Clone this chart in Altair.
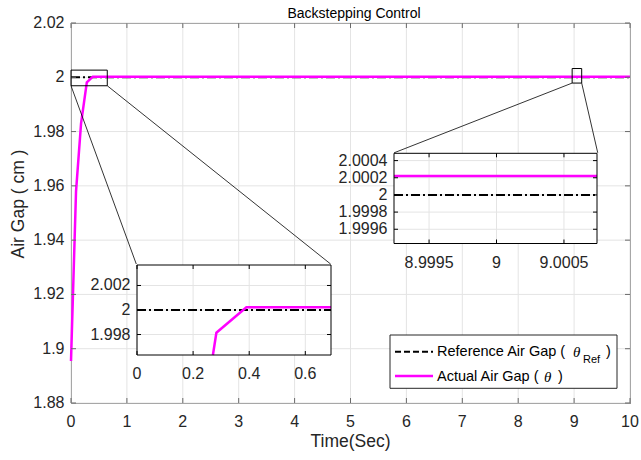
import altair as alt
import pandas as pd

# ---------------- data ----------------
time_s = [0.0, 0.09, 0.18, 0.283, 0.39, 10.0]
air_gap_actual = [1.8955, 1.958, 1.983, 1.99815, 2.00022, 2.00022]
ref_time = [0.0, 10.0]
air_gap_ref = [2.0, 2.0]

main_x_ticks = [0, 1, 2, 3, 4, 5, 6, 7, 8, 9, 10]
main_y_ticks = [1.88, 1.9, 1.92, 1.94, 1.96, 1.98, 2.0, 2.02]
main_x_domain = [0, 10]
main_y_domain = [1.88, 2.02]

# zoom boxes drawn on main axes (data coords)
zoom_box_x0 = [0.0, 8.965]
zoom_box_x1 = [0.649, 9.136]
zoom_box_y0 = [1.99688, 1.99787]
zoom_box_y1 = [2.00264, 2.00323]

# connector lines (main data coords): box corner -> inset corner
conn_x0 = [0.0, 0.649, 8.965, 9.136]
conn_y0 = [1.99688, 1.99688, 1.99787, 1.99787]
conn_x1 = [1.168, 4.645, 5.780, 9.423]
conn_y1 = [1.93119, 1.93119, 1.97218, 1.97218]

# inset 1
in1_x_domain = [0.0, 0.6916]
in1_y_domain = [1.99633, 2.00367]
in1_x_ticks = [0, 0.2, 0.4, 0.6]
in1_y_ticks = [1.998, 2.0, 2.002]
# inset 2
in2_x_domain = [8.99924, 9.000745]
in2_y_domain = [1.999434, 2.000485]
in2_x_ticks = [8.9995, 9.0, 9.0005]
in2_y_ticks = [1.9996, 1.9998, 2.0, 2.0002, 2.0004]

title_text = "Backstepping Control"
x_title = "Time(Sec)"
y_title = "Air Gap ( cm )"

# ---------------- layout (pixels, relative to plot area) ----------------
W, H = 559, 380
in1_x_range = [66, 260]
in1_y_range = [332, 242]
in2_x_range = [323, 526]
in2_y_range = [220.5, 130.3]

FONT = "Liberation Sans"
TXT = "#262626"
GRID = "#e4e4e4"
AX = "#6a6a6a"
MAG = "#ff00ff"
DASH = [9, 3, 2, 3]
LAB = 16


def fmt(v):
    return "%.6g" % v


def clip_poly(xs, ys, xd, yd):
    out = []
    for i in range(len(xs) - 1):
        x0, y0, x1, y1 = xs[i], ys[i], xs[i + 1], ys[i + 1]
        dx, dy = x1 - x0, y1 - y0
        t0, t1 = 0.0, 1.0
        ok = True
        for p, q in ((-dx, x0 - xd[0]), (dx, xd[1] - x0), (-dy, y0 - yd[0]), (dy, yd[1] - y0)):
            if p == 0:
                if q < 0:
                    ok = False
                    break
            else:
                r = q / p
                if p < 0:
                    t0 = max(t0, r)
                else:
                    t1 = min(t1, r)
        if not ok or t0 > t1:
            continue
        a = (x0 + t0 * dx, y0 + t0 * dy)
        b = (x0 + t1 * dx, y0 + t1 * dy)
        if not out or out[-1] != a:
            out.append(a)
        out.append(b)
    return pd.DataFrame(out, columns=["t", "y"])


def tick_df(vals):
    return pd.DataFrame({"v": vals, "lab": [fmt(v) for v in vals]})


def panel_guides(xs, ys, xticks, yticks, xr, yr, tick_len, tick_color, grid=True):
    """grid lines, inward ticks and tick labels drawn through the panel's scales"""
    dxt, dyt = tick_df(xticks), tick_df(yticks)
    X = alt.X("v:Q", scale=xs, axis=None)
    Y = alt.Y("v:Q", scale=ys, axis=None)
    layers = []
    if grid:
        layers.append(alt.Chart(dxt).mark_rule(color=GRID, strokeWidth=1).encode(
            x=X, y=alt.value(yr[1]), y2=alt.value(yr[0])))
        layers.append(alt.Chart(dyt).mark_rule(color=GRID, strokeWidth=1).encode(
            y=Y, x=alt.value(xr[0]), x2=alt.value(xr[1])))
    ticks = [
        alt.Chart(dxt).mark_rule(color=tick_color).encode(
            x=X, y=alt.value(yr[0]), y2=alt.value(yr[0] - tick_len)),
        alt.Chart(dxt).mark_rule(color=tick_color).encode(
            x=X, y=alt.value(yr[1]), y2=alt.value(yr[1] + tick_len)),
        alt.Chart(dyt).mark_rule(color=tick_color).encode(
            y=Y, x=alt.value(xr[0]), x2=alt.value(xr[0] + tick_len)),
        alt.Chart(dyt).mark_rule(color=tick_color).encode(
            y=Y, x=alt.value(xr[1]), x2=alt.value(xr[1] - tick_len)),
    ]
    labels = [
        alt.Chart(dxt).mark_text(baseline="top", align="center", fontSize=LAB, color=TXT, font=FONT)
        .encode(x=X, y=alt.value(yr[0] + 11), text="lab:N"),
        alt.Chart(dyt).mark_text(baseline="middle", align="right", fontSize=LAB, color=TXT, font=FONT)
        .encode(y=Y, x=alt.value(xr[0] - 6.5), text="lab:N"),
    ]
    return layers, ticks, labels


df_act = pd.DataFrame({"t": time_s, "y": air_gap_actual})
df_ref = pd.DataFrame({"t": ref_time, "y": air_gap_ref})

# ---------------- main panel ----------------
xs_main = alt.Scale(domain=main_x_domain, range=[0, W], nice=False, zero=False)
ys_main = alt.Scale(domain=main_y_domain, range=[H, 0], nice=False, zero=False)
MX = alt.X("t:Q", scale=xs_main, axis=None)
MY = alt.Y("y:Q", scale=ys_main, axis=None)

g_main, t_main, l_main = panel_guides(xs_main, ys_main, main_x_ticks, main_y_ticks,
                                      [0, W], [H, 0], 5, AX)

ref_main = alt.Chart(df_ref).mark_line(color="black", strokeWidth=2, strokeDash=DASH).encode(x=MX, y=MY)
act_main = alt.Chart(df_act).mark_line(color=MAG, strokeWidth=2.5).encode(x=MX, y=MY)

df_box = pd.DataFrame({"x0": zoom_box_x0, "x1": zoom_box_x1, "y0": zoom_box_y0, "y1": zoom_box_y1})
boxes = alt.Chart(df_box).mark_rect(fillOpacity=0, stroke="black", strokeWidth=1).encode(
    x=alt.X("x0:Q", scale=xs_main, axis=None), x2="x1:Q",
    y=alt.Y("y0:Q", scale=ys_main, axis=None), y2="y1:Q",
)
df_conn = pd.DataFrame({"x0": conn_x0, "y0": conn_y0, "x1": conn_x1, "y1": conn_y1})
conns = alt.Chart(df_conn).mark_rule(color="black", strokeWidth=0.8).encode(
    x=alt.X("x0:Q", scale=xs_main, axis=None), x2="x1:Q",
    y=alt.Y("y0:Q", scale=ys_main, axis=None), y2="y1:Q",
)

main = alt.layer(*g_main, ref_main, act_main, *t_main, *l_main, boxes, conns)


# ---------------- insets ----------------
def inset(xd, yd, xr, yr, xticks, yticks):
    xs = alt.Scale(domain=xd, range=xr, nice=False, zero=False)
    ys = alt.Scale(domain=yd, range=yr, nice=False, zero=False)
    dfb = pd.DataFrame({"x0": [xd[0]], "x1": [xd[1]], "y0": [yd[0]], "y1": [yd[1]]})
    enc = dict(x=alt.X("x0:Q", scale=xs, axis=None), x2="x1:Q",
               y=alt.Y("y0:Q", scale=ys, axis=None), y2="y1:Q")
    bg = alt.Chart(dfb).mark_rect(fill="white", strokeOpacity=0).encode(**enc)
    border = alt.Chart(dfb).mark_rect(fillOpacity=0, stroke="black", strokeWidth=1).encode(**enc)
    g, t, l = panel_guides(xs, ys, xticks, yticks, xr, yr, 4, "black")
    r = clip_poly(ref_time, air_gap_ref, xd, yd)
    a = clip_poly(time_s, air_gap_actual, xd, yd)
    IX = alt.X("t:Q", scale=xs, axis=None)
    IY = alt.Y("y:Q", scale=ys, axis=None)
    lr = alt.Chart(r).mark_line(color="black", strokeWidth=2, strokeDash=DASH).encode(x=IX, y=IY)
    la = alt.Chart(a).mark_line(color=MAG, strokeWidth=2.5).encode(x=IX, y=IY)
    return alt.layer(bg, *g, lr, la, border, *t, *l)


inset1 = inset(in1_x_domain, in1_y_domain, in1_x_range, in1_y_range, in1_x_ticks, in1_y_ticks)
inset2 = inset(in2_x_domain, in2_y_domain, in2_x_range, in2_y_range, in2_x_ticks, in2_y_ticks)

# ---------------- legend, titles (manual) ----------------
one = pd.DataFrame({"d": [0]})
leg_box = alt.Chart(one).mark_rect(fill="white", stroke=TXT, strokeWidth=1).encode(
    x=alt.value(319), x2=alt.value(546), y=alt.value(312), y2=alt.value(365.3))
leg_l1 = alt.Chart(one).mark_rule(color="black", strokeWidth=2, strokeDash=[6, 3]).encode(
    x=alt.value(324), x2=alt.value(362), y=alt.value(328.7), y2=alt.value(328.7))
leg_l2 = alt.Chart(one).mark_rule(color=MAG, strokeWidth=2.5).encode(
    x=alt.value(324), x2=alt.value(362), y=alt.value(353), y2=alt.value(353))


def txt(s, x, y, size=14.5, style="normal", font=FONT, align="left", baseline="middle",
        angle=0, color="black"):
    return alt.Chart(pd.DataFrame({"s": [s]})).mark_text(
        align=align, baseline=baseline, fontSize=size, font=font, fontStyle=style,
        color=color, angle=angle
    ).encode(text="s:N", x=alt.value(x), y=alt.value(y))


legend = alt.layer(
    leg_box, leg_l1, leg_l2,
    txt("Reference Air Gap (", 366, 329),
    txt("θ", 502, 329, 15, "italic", "Liberation Serif"),
    txt("Ref", 512, 336.5, 11),
    txt(")", 535, 329),
    txt("Actual Air Gap (", 366, 353.5),
    txt("θ", 473, 353.5, 15, "italic", "Liberation Serif"),
    txt(")", 487, 353.5),
    txt(title_text, 283, -4.7, 14, align="center", baseline="alphabetic"),
    txt(x_title, W / 2, H + 44, 17.5, align="center", baseline="alphabetic", color=TXT),
    txt(y_title, -52, 181, 17.5, align="center", baseline="middle", angle=270, color=TXT),
)

chart = alt.layer(main, inset1, inset2, legend).resolve_scale(
    x="independent", y="independent"
).properties(
    width=W, height=H,
    autosize=alt.AutoSizeParams(type="none"),
    padding={"left": 71, "top": 23, "right": 11, "bottom": 57},
).configure(font=FONT, background="white").configure_view(stroke=AX, strokeWidth=1)

chart.save("out.html", embed_options={"renderer": "svg", "actions": False})
